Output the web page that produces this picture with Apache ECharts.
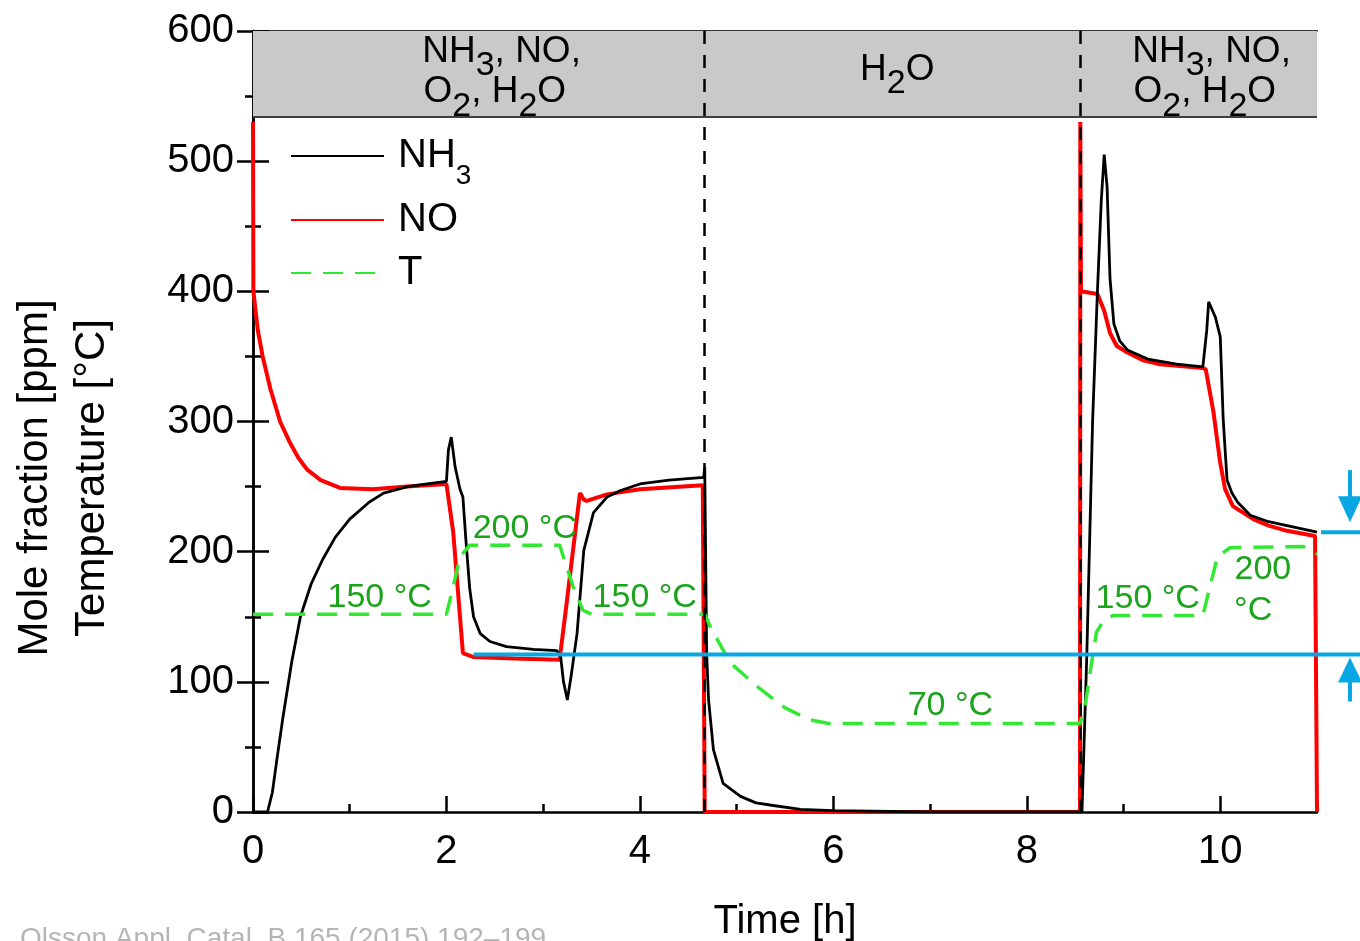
<!DOCTYPE html>
<html>
<head>
<meta charset="utf-8">
<script src="https://cdn.jsdelivr.net/npm/echarts@6/dist/echarts.min.js"></script>
<style>
  html, body { margin: 0; padding: 0; background: #fff; }
  #chart { width: 1360px; height: 941px; }
</style>
</head>
<body>
<div id="chart"></div>
<script>
// NH3 outlet signal [ppm]
const nh3Time = [0, 0.15, 0.2, 0.25, 0.31, 0.4, 0.49, 0.6, 0.72, 0.85, 1.0, 1.2, 1.35, 1.6, 1.8,
  2.0, 2.02, 2.05, 2.09, 2.14, 2.17, 2.2, 2.24, 2.28, 2.35, 2.45, 2.62, 2.9, 3.14, 3.18, 3.21, 3.25,
  3.29, 3.35, 3.42, 3.52, 3.66, 3.8, 4.0, 4.3, 4.66, 4.67, 4.69, 4.71, 4.76, 4.86, 5.04, 5.2, 5.38,
  5.66, 6.0, 7.0, 8.57, 8.62, 8.68, 8.73, 8.77, 8.8, 8.83, 8.86, 8.9, 8.96, 9.04, 9.25, 9.55, 9.82,
  9.86, 9.88, 9.95, 10.0, 10.03, 10.07, 10.12, 10.18, 10.31, 10.5, 10.69, 11.0];
const nh3Value = [0, 0, 15, 42, 73, 115, 150, 175, 194, 211, 225, 238, 245, 250, 252,
  254, 278, 288, 265, 248, 242, 210, 172, 150, 137, 131, 127, 125, 124, 120, 100, 86,
  105, 137, 201, 230, 242, 247, 252, 255, 257, 265, 122, 86, 48, 22, 12, 7, 5,
  2, 1, 0, 0, 120, 300, 400, 470, 505, 480, 410, 375, 362, 355, 348, 344, 342,
  370, 392, 380, 365, 302, 255, 245, 238, 228, 223, 220, 215];

// NO outlet signal [ppm]
const noTime = [0, 0.004, 0.05, 0.1, 0.18, 0.28, 0.38, 0.47, 0.56, 0.7, 0.9, 1.24, 1.59, 2.0, 2.07,
  2.17, 2.28, 2.7, 3.17, 3.25, 3.38, 3.42, 3.45, 3.66, 4.0, 4.65, 4.67, 8.55, 8.553, 8.56, 8.73,
  8.8, 8.86, 8.93, 9.04, 9.2, 9.38, 9.82, 9.85, 9.93, 10.0, 10.05, 10.13, 10.34, 10.5, 10.69, 10.98, 11.0];
const noValue = [530, 400, 370, 350, 325, 300, 284, 272, 263, 255, 249, 248, 250, 252, 215,
  122, 119, 118, 117, 165, 245, 240, 239, 244, 248, 251, 0, 0, 530, 400, 398,
  385, 368, 358, 353, 347, 344, 341, 340, 307, 268, 248, 235, 225, 220, 216, 212, 0];

// catalyst temperature [°C]
const tempTime = [0, 2.0, 2.07, 2.14, 2.24, 3.17, 3.31, 3.41, 3.5, 4.67, 4.73, 4.93, 5.2, 5.5, 5.75,
  5.95, 8.55, 8.6, 8.66, 8.72, 8.8, 8.9, 9.82, 9.97, 10.1, 10.86, 11.0];
const tempValue = [152, 152, 173, 196, 205, 205, 173, 155, 152, 152, 142, 115, 97, 80, 71,
  68, 68, 80, 110, 138, 148, 151, 151, 196, 203, 204, 198];

// feed switches [h] and the gas band
const feedSwitch = [4.67, 8.55];
const bandFrom = 534;
const bandTo = 600;

const bandLabels = [
  { text: '{n|NH}{s|3}{n|, NO,}', t: 2.57, v: 584 },
  { text: '{n|O}{s|2}{n|, H}{s|2}{n|O}', t: 2.5, v: 553 },
  { text: '{n|H}{s|2}{n|O}', t: 6.66, v: 570 },
  { text: '{n|NH}{s|3}{n|, NO,}', t: 9.91, v: 584 },
  { text: '{n|O}{s|2}{n|, H}{s|2}{n|O}', t: 9.84, v: 553 }
];

const tempLabels = [
  { text: '150 °C', t: 1.31, v: 165 },
  { text: '200 °C', t: 2.81, v: 218 },
  { text: '150 °C', t: 4.05, v: 165 },
  { text: '70 °C', t: 7.21, v: 82 },
  { text: '150 °C', t: 9.25, v: 164 },
  { text: '200', t: 10.44, v: 186 },
  { text: '°C', t: 10.34, v: 155 }
];

// blue markers (slip level bracket)
const slipLow = 121;
const slipHigh = 215;
const slipLowStart = 2.28;

const font = 'Liberation Sans, Arial, sans-serif';
const zip = (ts, vs) => ts.map((t, i) => [t, vs[i]]);

const chart = echarts.init(document.getElementById('chart'));

const legendTops = [136, 200, 253];
const legendNames = ['NH3', 'NO', 'T'];

const option = {
  animation: false,
  backgroundColor: '#fff',
  textStyle: { fontFamily: font },
  grid: { left: 253, right: 43, top: 31, bottom: 129, containLabel: false, outerBoundsMode: 'none' },
  legend: legendNames.map((name, i) => ({
    data: [name],
    left: 290,
    top: legendTops[i],
    padding: 0,
    itemWidth: 93,
    itemHeight: 14,
    selectedMode: false,
    itemStyle: { opacity: 0 },
    formatter: (n) => (n === 'NH3' ? '{n|NH}{s|3}' : '{n|' + n + '}'),
    textStyle: {
      padding: [0, 0, 0, 9],
      rich: {
        n: { fontSize: 40, color: '#000', fontFamily: font },
        s: { fontSize: 28, color: '#000', fontFamily: font, padding: [40, 0, 0, 0] }
      }
    }
  })),
  xAxis: [
    {
      type: 'value', min: 0, max: 11, interval: 2, position: 'bottom',
      axisLine: { lineStyle: { color: '#000', width: 2.5 } },
      axisTick: { inside: true, length: 16, lineStyle: { color: '#000', width: 2.5 } },
      axisLabel: { fontSize: 40, color: '#000', margin: 20, showMaxLabel: false, fontFamily: font },
      splitLine: { show: false },
      name: 'Time [h]', nameLocation: 'middle', nameGap: 90,
      nameTextStyle: { fontSize: 40, color: '#000', fontFamily: font }
    },
    {
      type: 'value', min: 0, max: 11, interval: 1, position: 'bottom',
      axisLine: { show: false },
      axisTick: { inside: true, length: 8, lineStyle: { color: '#000', width: 2.5 } },
      axisLabel: { show: false },
      splitLine: { show: false }
    },
    {
      type: 'value', min: 0, max: 11, position: 'top',
      axisLine: { lineStyle: { color: '#333', width: 2 } },
      axisTick: { show: false }, axisLabel: { show: false }, splitLine: { show: false }
    }
  ],
  yAxis: [
    {
      type: 'value', min: 0, max: 600, interval: 100, position: 'left',
      axisLine: { show: true, lineStyle: { color: '#000', width: 2.5 } },
      axisTick: { inside: true, length: 16, lineStyle: { color: '#000', width: 2.5 } },
      minorTick: { show: true, splitNumber: 2, length: 8, lineStyle: { color: '#000', width: 2.5 } },
      axisLabel: { fontSize: 40, color: '#000', margin: 19, fontFamily: font },
      splitLine: { show: false }
    },
    {
      type: 'value', min: 0, max: 600, interval: 100, position: 'right',
      axisLine: { show: true, lineStyle: { color: '#000', width: 2.5 } },
      axisTick: { inside: true, length: 16, lineStyle: { color: '#000', width: 2.5 } },
      minorTick: { show: true, splitNumber: 2, length: 8, lineStyle: { color: '#000', width: 2.5 } },
      axisLabel: { show: false },
      splitLine: { show: false }
    }
  ],
  series: [
    {
      name: 'NH3', type: 'line', symbol: 'none', z: 3,
      lineStyle: { color: '#000', width: 2.8 }, itemStyle: { color: '#000' },
      data: zip(nh3Time, nh3Value)
    },
    {
      name: 'NO', type: 'line', symbol: 'none', z: 2,
      lineStyle: { color: '#ff0000', width: 4 }, itemStyle: { color: '#ff0000' },
      data: zip(noTime, noValue)
    },
    {
      name: 'T', type: 'line', symbol: 'none', z: 4,
      lineStyle: { color: '#33e833', width: 3.5, type: [20, 12] }, itemStyle: { color: '#33e833' },
      data: zip(tempTime, tempValue)
    },
    {
      name: 'annotations', type: 'line', symbol: 'none', data: [],
      markArea: {
        silent: true, z: 4,
        itemStyle: { color: '#c9c9c9' },
        data: [[{ yAxis: bandFrom }, { yAxis: bandTo }]]
      },
      markLine: {
        silent: true, z: 6, symbol: 'none',
        label: { show: false },
        data: [
          { yAxis: bandFrom, lineStyle: { color: '#404040', width: 2, type: 'solid' } },
          ...feedSwitch.map((t) => ({ xAxis: t, lineStyle: { color: '#000', width: 2.5, type: [13, 11] } }))
        ]
      },
      markPoint: {
        silent: true, z: 7, symbol: 'circle', symbolSize: 1,
        itemStyle: { color: 'rgba(0,0,0,0)' },
        label: {
          show: true, position: 'inside',
          rich: {
            n: { fontSize: 37, color: '#000', fontFamily: font },
            s: { fontSize: 34, color: '#000', fontFamily: font, padding: [28, 0, 0, 0] }
          }
        },
        data: [
          ...bandLabels.map((b) => ({ coord: [b.t, b.v], label: { formatter: b.text } })),
          ...tempLabels.map((b) => ({
            coord: [b.t, b.v],
            label: { formatter: b.text, fontSize: 34, color: '#1ba31b', fontFamily: font }
          }))
        ]
      }
    }
  ]
};

chart.setOption(option);

// annotation graphics positioned from the data scale
const pLow = chart.convertToPixel({ xAxisIndex: 0, yAxisIndex: 0 }, [slipLowStart, slipLow]);
const pHigh = chart.convertToPixel({ xAxisIndex: 0, yAxisIndex: 0 }, [11, slipHigh]);
const blue = '#08a7e3';
const ax = 1350;

chart.setOption({
  graphic: [
    {
      type: 'text', x: 35, y: 478, rotation: Math.PI / 2,
      style: { text: 'Mole fraction [ppm]', font: '42px ' + font, fill: '#000', align: 'center', verticalAlign: 'middle' }
    },
    {
      type: 'text', x: 92, y: 478, rotation: Math.PI / 2,
      style: { text: 'Temperature [°C]', font: '42px ' + font, fill: '#000', align: 'center', verticalAlign: 'middle' }
    },
    {
      type: 'text', x: 20, y: 925,
      style: { text: 'Olsson Appl. Catal. B 165 (2015) 192–199', font: '28px ' + font, fill: '#b5b5b5', align: 'left', verticalAlign: 'top' }
    },
    {
      type: 'line', z: 10,
      shape: { x1: pLow[0], y1: pLow[1], x2: 1360, y2: pLow[1] },
      style: { stroke: blue, lineWidth: 4 }
    },
    {
      type: 'line', z: 10,
      shape: { x1: pHigh[0] + 4, y1: pHigh[1], x2: 1360, y2: pHigh[1] },
      style: { stroke: blue, lineWidth: 4 }
    },
    {
      type: 'line', z: 10,
      shape: { x1: ax, y1: pHigh[1] - 62, x2: ax, y2: pHigh[1] - 30 },
      style: { stroke: blue, lineWidth: 4 }
    },
    {
      type: 'polygon', z: 10,
      shape: { points: [[ax - 12, pHigh[1] - 36], [ax + 12, pHigh[1] - 36], [ax, pHigh[1] - 10]] },
      style: { fill: blue }
    },
    {
      type: 'line', z: 10,
      shape: { x1: ax, y1: pLow[1] + 22, x2: ax, y2: pLow[1] + 47 },
      style: { stroke: blue, lineWidth: 4 }
    },
    {
      type: 'polygon', z: 10,
      shape: { points: [[ax, pLow[1] + 3], [ax - 12, pLow[1] + 28], [ax + 12, pLow[1] + 28]] },
      style: { fill: blue }
    }
  ]
});
</script>
</body>
</html>
